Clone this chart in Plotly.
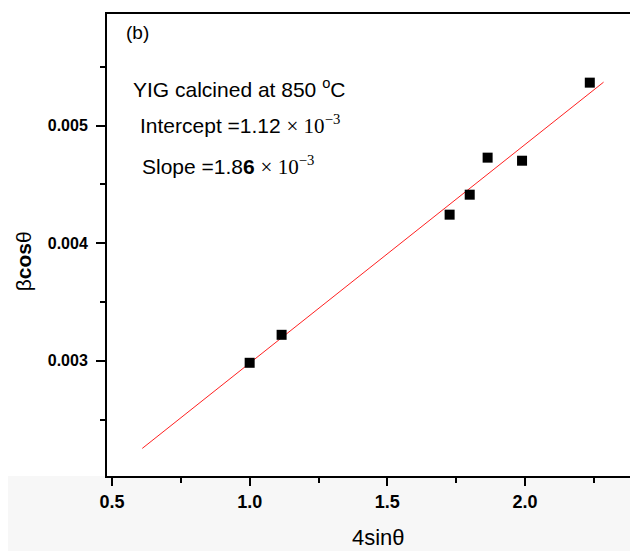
import plotly.graph_objects as go

# measured points (4 sin(theta), beta cos(theta))
x_pts = [1.0, 1.116, 1.726, 1.799, 1.864, 1.989, 2.235]
y_pts = [0.002983, 0.003221, 0.004243, 0.004413, 0.004728, 0.004702, 0.005366]

# linear fit as reported in the figure
slope = 1.86e-3
intercept = 1.12e-3
fit_x = [0.61, 2.285]
fit_y = [intercept + slope * v for v in fit_x]

sans = "Liberation Sans, Arial"
serif = "Liberation Serif, Times New Roman"

fig = go.Figure()
fig.add_trace(go.Scatter(x=fit_x, y=fit_y, mode="lines",
                         line=dict(color="#ff2020", width=1), showlegend=False))
fig.add_trace(go.Scatter(x=x_pts, y=y_pts, mode="markers",
                         marker=dict(symbol="square", size=10, color="black"),
                         showlegend=False))

# light gray band below the plot
fig.add_shape(type="rect", xref="paper", yref="paper", x0=-0.19, x1=1.0,
              y0=-0.2, y1=0.0, fillcolor="#f7f7f7", line_width=0, layer="below")

notes = [
    ("(b)", 0.032, 0.959, 19),
    ("YIG calcined at 850 <sup>o</sup>C", 0.045, 0.840, 21),
    ("Intercept =1.12 <span style=\"font-family:%s\">× 10<sup>−3</sup></span>" % serif,
     0.058, 0.760, 21),
    ("Slope =1.8<b>6</b> <span style=\"font-family:%s\">× 10<sup>−3</sup></span>" % serif,
     0.062, 0.673, 21),
]
for txt, ax, ay, sz in notes:
    fig.add_annotation(text=txt, xref="paper", yref="paper", x=ax, y=ay,
                       xanchor="left", yanchor="middle", showarrow=False,
                       font=dict(family=sans, size=sz, color="black"))

# axis titles
fig.add_annotation(text="4sinθ", xref="paper", yref="paper", x=0.512, y=-0.133,
                   xanchor="center", yanchor="middle", showarrow=False,
                   font=dict(family=sans, size=22, color="black"))
fig.add_annotation(text="β<b>cos</b>θ", xref="paper", yref="paper", x=-0.158, y=0.465,
                   xanchor="center", yanchor="middle", showarrow=False, textangle=-90,
                   font=dict(family=sans, size=21, color="black"))

fig.update_xaxes(range=[0.482, 2.41], tick0=0.5, dtick=0.5, tickformat=".1f",
                 showline=True, linewidth=2, linecolor="black", mirror=True,
                 ticks="outside", ticklen=8, tickwidth=2, tickcolor="black",
                 minor=dict(dtick=0.25, ticks="outside", ticklen=5, tickwidth=2,
                            tickcolor="black", showgrid=False),
                 showgrid=False, zeroline=False,
                 tickfont=dict(family=sans, size=18, color="black", weight="bold"))
fig.update_yaxes(range=[0.00202, 0.00595], tick0=0.003, dtick=0.001, tickformat=".3f",
                 showline=True, linewidth=2, linecolor="black",
                 ticks="outside", ticklen=9, tickwidth=2, tickcolor="black",
                 ticklabelstandoff=5,
                 minor=dict(dtick=0.0005, ticks="outside", ticklen=5, tickwidth=2,
                            tickcolor="black", showgrid=False),
                 showgrid=False, zeroline=False,
                 tickfont=dict(family=sans, size=16, color="black", weight="bold"))

# page body adds an 8px offset, so the figure is 8px smaller than the window
fig.update_layout(width=630, height=543,
                  margin=dict(l=99, r=0, t=6, b=75),
                  paper_bgcolor="white", plot_bgcolor="white")

fig.write_html("out.html")
